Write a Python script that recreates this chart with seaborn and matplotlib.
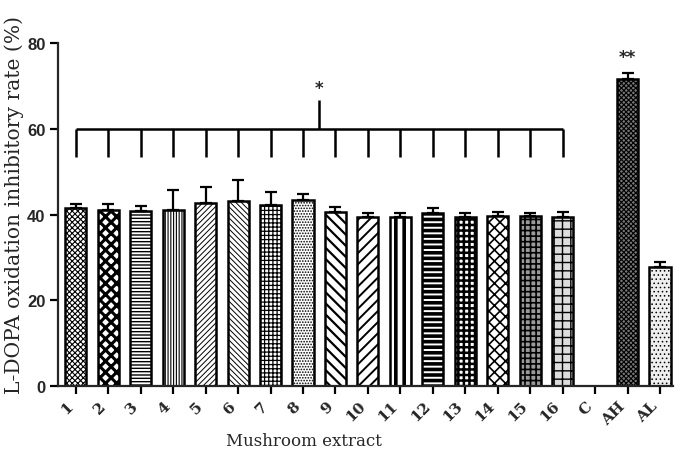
import numpy as np
import pandas as pd
import matplotlib
matplotlib.use("Agg")
import matplotlib.pyplot as plt
import seaborn as sns

# ---- data ----
categories = [str(i) for i in range(1, 17)] + ["C", "AH", "AL"]
values = [41.5, 41.0, 40.8, 41.0, 42.7, 43.1, 42.2, 43.4, 40.6, 39.4,
          39.4, 40.3, 39.4, 39.6, 39.6, 39.4, 0.0, 71.6, 27.8]
errors = [1.0, 1.4, 1.2, 4.7, 3.7, 4.9, 3.1, 1.4, 1.1, 0.9,
          0.9, 1.3, 0.9, 0.9, 0.7, 1.2, 0.0, 1.5, 1.1]
yticks = [0, 20, 40, 60, 80]
bracket_level = 60
bracket_drop = 53.5
bracket_peak = 66.7
star_y = 69.5
ah_star_y = 76.8

hatches = ["xxxxxx", "xxx", "-----", "||||||", "//////", "\\\\\\\\\\\\",
           "++++", "......", "\\\\\\", "///", "||", "---", "+++",
           "xxx", "+++", "++", "", "xxxxxxx", "...."]
faces = ["white"] * 14 + ["#9a9a9a", "#dddddd", "white", "#777777", "#eeeeee"]
hatch_lws = [0.8, 2.2, 1.0, 0.8, 0.7, 0.7, 0.9, 0.8, 1.6, 1.4, 2.6, 2.6, 1.8,
             1.2, 1.2, 1.0, 1.0, 0.8, 0.6]

df = pd.DataFrame({"cat": categories, "val": values, "err": errors})

sns.set_style("ticks")
plt.rcParams["hatch.linewidth"] = 1.0

fig = plt.figure(figsize=(6.85, 4.56), dpi=100)
ax = fig.add_axes([0.0847, 0.1513, 0.8978, 0.7522])

sns.barplot(data=df, x="cat", y="val", order=categories, color="white",
            edgecolor="black", linewidth=1.8, width=0.65, ax=ax, errorbar=None)

for i, p in enumerate(ax.patches[:len(categories)]):
    p.set_facecolor(faces[i])
    p.set_hatch(hatches[i])
    p.set_edgecolor("black")
    if hasattr(p, "set_hatch_linewidth"):
        p.set_hatch_linewidth(hatch_lws[i])

x = np.arange(len(categories))
vals = np.array(values)
errs = np.array(errors)
mask = vals > 0
ax.errorbar(x[mask], vals[mask], yerr=[np.zeros(mask.sum()), errs[mask]],
            fmt="none", ecolor="black", elinewidth=1.6, capsize=4, capthick=1.6,
            zorder=1)

# bracket over extracts 1..16
n_ext = 16
ax.plot([0, n_ext - 1], [bracket_level, bracket_level], color="black", lw=1.8,
        solid_capstyle="butt", clip_on=False)
for xi in range(n_ext):
    ax.plot([xi, xi], [bracket_drop, bracket_level], color="black", lw=1.8,
            solid_capstyle="butt", clip_on=False)
mid = (n_ext - 1) / 2
ax.plot([mid, mid], [bracket_level, bracket_peak], color="black", lw=1.8,
        solid_capstyle="butt", clip_on=False)
ax.text(mid, star_y, "*", ha="center", va="center", fontsize=12,
        fontweight="bold", family="DejaVu Sans")
ax.text(categories.index("AH"), ah_star_y, "**", ha="center", va="center",
        fontsize=12, fontweight="bold", family="DejaVu Sans")

ax.set_xlim(-0.55, len(categories) - 1 + 0.4)
ax.set_ylim(0, 80)
ax.set_yticks(yticks)
ax.set_yticklabels([str(t) for t in yticks], fontsize=12, fontweight="bold",
                   family="Liberation Sans")
ax.set_xticks(x)
ax.set_xticklabels(categories, rotation=45, ha="right", fontsize=11,
                   fontweight="bold", family="DejaVu Serif",
                   rotation_mode="default")
for lab in ax.get_xticklabels():
    lab.set_transform(lab.get_transform() + matplotlib.transforms.ScaledTranslation(
        7 / 100, -2 / 100, fig.dpi_scale_trans))

sns.despine(ax=ax)
for s in ["left", "bottom"]:
    ax.spines[s].set_linewidth(1.6)
ax.spines["left"].set_bounds(0, 80)
ax.tick_params(axis="both", direction="out", length=6, width=1.6, pad=3,
               color="black")

ax.set_xlabel("Mushroom extract", fontsize=12, family="DejaVu Serif")
ax.xaxis.set_label_coords(0.40, -0.135)
ax.set_ylabel("L-DOPA oxidation inhibitory rate (%)", fontsize=14.6,
              family="DejaVu Serif")
ax.yaxis.set_label_coords(-0.056, 0.53)

fig.savefig("out.png", dpi=100)
